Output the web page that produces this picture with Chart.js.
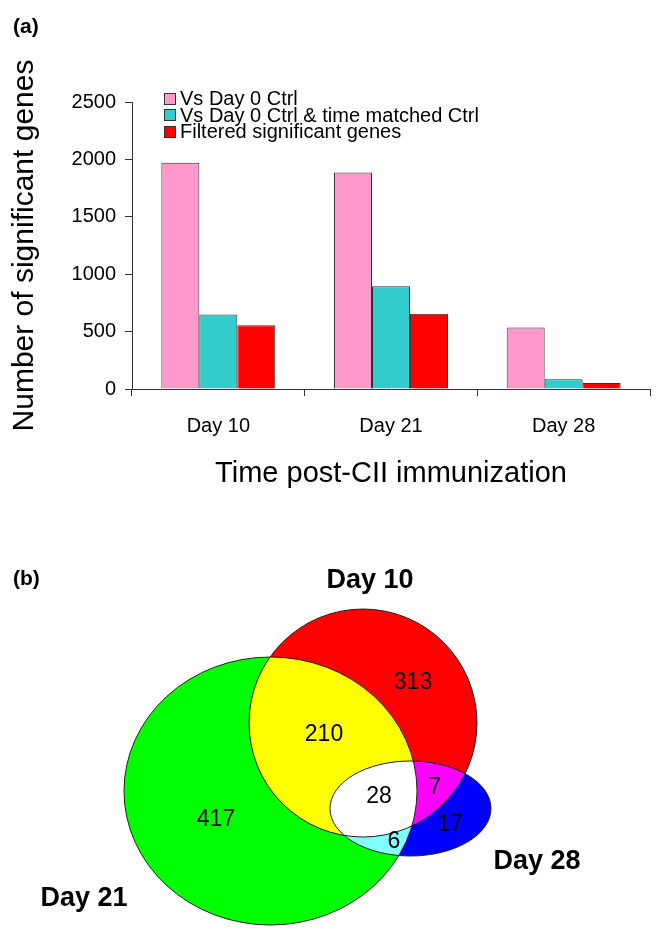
<!DOCTYPE html>
<html>
<head>
<meta charset="utf-8">
<script src="https://cdn.jsdelivr.net/npm/chart.js@4.4.0/dist/chart.umd.min.js"></script>
<style>
  body { margin: 0; background: #fff; }
  canvas { display: block; }
</style>
</head>
<body>
<canvas id="barChart" width="669" height="500"></canvas>
<canvas id="vennChart" width="669" height="450"></canvas>
<script>
// panel (a) data
const days = ['Day 10', 'Day 21', 'Day 28'];
const seriesNames = ['Vs Day 0 Ctrl', 'Vs Day 0 Ctrl & time matched Ctrl', 'Filtered significant genes'];
const vsDay0 = [1970, 1885, 535];
const vsDay0TimeMatched = [648, 895, 85];
const filteredGenes = [555, 655, 52];
const yTicks = [0, 500, 1000, 1500, 2000, 2500];

// panel (b) data
const vennSetNames = ['Day 10', 'Day 21', 'Day 28'];
const vennRegionNames = ['Day 10 only', 'Day 10 & 21', 'Day 21 only', 'Day 10 & 21 & 28', 'Day 10 & 28', 'Day 28 only', 'Day 21 & 28'];
const vennCounts = [313, 210, 417, 28, 7, 17, 6];

const FONT = "'Liberation Sans', Arial, sans-serif";
Chart.defaults.font.family = FONT;
Chart.defaults.color = '#000';

// ---------- (a) bar chart ----------
const barColors = ['#FF99CC', '#33CCCC', '#FF0000'];

const legendPlugin = {
    id: 'sideLegend',
    afterDraw(chart) {
        const ctx = chart.ctx;
        ctx.save();
        ctx.font = 'bold 21px ' + FONT;
        ctx.textBaseline = 'middle';
        ctx.fillStyle = '#000';
        ctx.fillText('(a)', 13, 27);

        ctx.font = '20px ' + FONT;
        chart.data.datasets.forEach(function(ds, i) {
            let y = 98.5 + i * 16.5;
            ctx.fillStyle = ds.backgroundColor;
            ctx.fillRect(164, Math.round(y) - 6, 12, 12);
            ctx.strokeStyle = '#333';
            ctx.lineWidth = 1;
            ctx.strokeRect(164.5, Math.round(y) - 5.5, 11, 11);
            ctx.fillStyle = '#000';
            ctx.fillText(ds.label, 180, y + 1);
        });
        ctx.restore();
    }
};

new Chart(document.getElementById('barChart'), {
    type: 'bar',
    data: {
        labels: days,
        datasets: [
            { label: seriesNames[0], data: vsDay0, backgroundColor: barColors[0] },
            { label: seriesNames[1], data: vsDay0TimeMatched, backgroundColor: barColors[1] },
            { label: seriesNames[2], data: filteredGenes, backgroundColor: barColors[2] }
        ].map(ds => Object.assign(ds, { borderColor: '#333', borderWidth: 1, categoryPercentage: 0.66, barPercentage: 1.0 }))
    },
    options: {
        responsive: false,
        animation: false,
        layout: { padding: { top: 102, right: 19, left: 0, bottom: 0 } },
        plugins: { legend: { display: false }, tooltip: { enabled: false } },
        scales: {
            x: {
                grid: { offset: true, drawOnChartArea: false, drawTicks: true, tickLength: 7, color: '#333' },
                border: { color: '#333' },
                ticks: { font: { size: 20 }, padding: 18, color: '#000' },
                title: { display: true, text: 'Time post-CII immunization', font: { size: 29 }, color: '#000', padding: { top: 0, bottom: 9 } },
                afterFit: s => { s.height = 111; }
            },
            y: {
                min: 0,
                max: 2500,
                afterBuildTicks: s => { s.ticks = yTicks.map(v => ({ value: v })); },
                grid: { drawOnChartArea: false, drawTicks: true, tickLength: 7, color: '#333' },
                border: { color: '#333' },
                ticks: { font: { size: 20 }, padding: 9, color: '#000', callback: v => String(v) },
                title: { display: true, text: 'Number of significant genes', font: { size: 30 }, color: '#000', padding: { top: 7, bottom: 0 } },
                afterFit: s => { s.width = 132; }
            }
        }
    },
    plugins: [legendPlugin]
});

// ---------- (b) Venn diagram ----------
// shape layout in page units (x: 0..669, y: 500..950)
const vennLayout = {
    ellipses: [
        { cx: 363, cy: 723, rx: 114, ry: 114 },     // Day 10
        { cx: 270.5, cy: 791, rx: 146.5, ry: 134 }, // Day 21
        { cx: 410.5, cy: 808.5, rx: 80.5, ry: 47.5 } // Day 28
    ],
    setLabelPos: [[370, 581], [84, 899], [537, 862]],
    countPos: [[413, 683], [324, 735], [216, 820], [379, 797], [435, 788], [450, 825], [394, 842]]
};
const vennFill = { d10: '#FF0000', d21: '#00FF00', d28: '#0000FF', d10_21: '#FFFF00', d10_28: '#FF00FF', d21_28: '#80FFFF', all: '#FFFFFF' };

const vennPlugin = {
    id: 'venn',
    beforeDatasetsDraw(chart) {
        const ctx = chart.ctx;
        const sx = chart.scales.x, sy = chart.scales.y;

        function path(i) {
            let e = vennLayout.ellipses[i];
            let px = sx.getPixelForValue(e.cx), py = sy.getPixelForValue(e.cy);
            let rx = Math.abs(sx.getPixelForValue(e.cx + e.rx) - px);
            let ry = Math.abs(sy.getPixelForValue(e.cy + e.ry) - py);
            ctx.beginPath();
            ctx.ellipse(px, py, rx, ry, 0, 0, Math.PI * 2);
        }
        function fill(i, color, clips) {
            ctx.save();
            (clips || []).forEach(c => { path(c); ctx.clip(); });
            path(i);
            ctx.fillStyle = color;
            ctx.fill();
            ctx.restore();
        }

        fill(1, vennFill.d21);
        fill(0, vennFill.d10);
        fill(0, vennFill.d10_21, [1]);
        fill(2, vennFill.d28);
        fill(2, vennFill.d10_28, [0]);
        fill(2, vennFill.d21_28, [1]);
        fill(2, vennFill.all, [0, 1]);

        ctx.save();
        ctx.strokeStyle = '#222';
        ctx.lineWidth = 1;
        [0, 1, 2].forEach(i => { path(i); ctx.stroke(); });
        ctx.restore();
    },
    afterDatasetsDraw(chart) {
        const ctx = chart.ctx;
        const sx = chart.scales.x, sy = chart.scales.y;
        ctx.save();
        ctx.fillStyle = '#000';
        ctx.textBaseline = 'middle';

        ctx.font = 'bold 21px ' + FONT;
        ctx.textAlign = 'left';
        ctx.fillText('(b)', 13, 79);

        ctx.font = 'bold 27px ' + FONT;
        ctx.textAlign = 'center';
        vennSetNames.forEach(function(name, i) {
            let p = vennLayout.setLabelPos[i];
            ctx.fillText(name, sx.getPixelForValue(p[0]), sy.getPixelForValue(p[1]));
        });

        ctx.font = '23px ' + FONT;
        chart.getDatasetMeta(0).data.forEach(function(pt, i) {
            ctx.fillText(String(vennCounts[i]), pt.x, pt.y);
        });
        ctx.restore();
    }
};

new Chart(document.getElementById('vennChart'), {
    type: 'scatter',
    data: {
        datasets: [{
            label: 'Overlap counts',
            data: vennLayout.countPos.map((p, i) => ({ x: p[0], y: p[1], name: vennRegionNames[i] })),
            pointRadius: 0
        }]
    },
    options: {
        responsive: false,
        animation: false,
        layout: { padding: 0 },
        plugins: { legend: { display: false }, tooltip: { enabled: false } },
        scales: {
            x: { type: 'linear', min: 0, max: 669, display: false },
            y: { type: 'linear', min: 500, max: 950, reverse: true, display: false }
        }
    },
    plugins: [vennPlugin]
});
</script>
</body>
</html>
